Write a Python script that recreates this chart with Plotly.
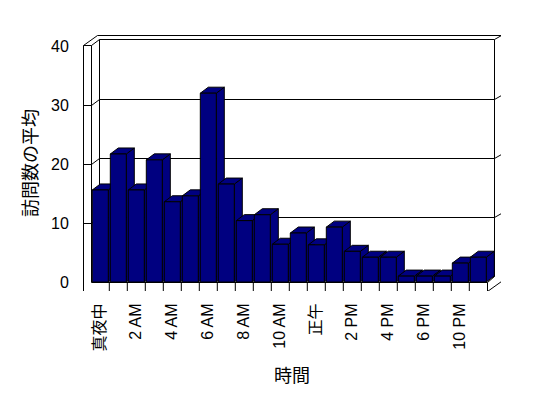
import plotly.graph_objects as go

# ---- data ----
categories = ["真夜中", "1 AM", "2 AM", "3 AM", "4 AM", "5 AM", "6 AM", "7 AM", "8 AM", "9 AM",
              "10 AM", "11 AM", "正午", "1 PM", "2 PM", "3 PM", "4 PM", "5 PM", "6 PM", "7 PM",
              "10 PM", "11 PM"]
values = [15.6, 21.7, 15.6, 20.7, 13.6, 14.6, 32.0, 16.6, 10.4, 11.4, 6.4, 8.3,
          6.3, 9.3, 5.2, 4.2, 4.2, 1.0, 1.0, 1.0, 3.2, 4.2]
y_ticks = [0, 10, 20, 30, 40]
y_title = "訪問数の平均"
x_title = "時間"

# ---- geometry (pixel layout of the pseudo-3D frame) ----
W, H = 548, 398
PL, PR, PT, PB = 83, 501, 35, 291      # plot area in px
X0PX, PXX = 100.3, 18.0                # px of category 0 centre, px per category
Y0PX, PXY = 282.0, 5.9                 # px of value 0 (front), px per unit
DEPTH_DX, DEPTH_DY = 8, 6              # bar depth in px


def X(px):
    return (px - X0PX) / PXX


def Y(py):
    return (Y0PX - py) / PXY


xr = [X(PL), X(PR)]
yr = [Y(PB), Y(PT)]
dx = DEPTH_DX / PXX
dy = DEPTH_DY / PXY
bw = 16 / 18.0

shapes = []


def line_px(p, q):
    shapes.append(dict(type="line", xref="x", yref="y", layer="below",
                       x0=X(p[0] + 0.5), y0=Y(p[1] + 0.5), x1=X(q[0] + 0.5), y1=Y(q[1] + 0.5),
                       line=dict(color="black", width=1)))


frame = [
    ((83, 45), (83, 291)), ((83, 45), (91, 45)), ((91, 45), (91, 282)),
    ((83, 45), (97, 35)), ((97, 35), (501, 35)), ((91, 45), (99, 39)),
    ((99, 39), (494, 39)), ((99, 39), (99, 276)), ((494, 39), (494, 276)),
    ((501, 35), (501, 281)), ((494, 39), (501, 35)),
    ((83, 291), (487, 291)), ((91, 282), (487, 282)), ((487, 282), (487, 291)),
    ((487, 291), (501, 281)), ((487, 282), (494, 276)), ((99, 276), (494, 276)),
]
for p, q in frame:
    line_px(p, q)

for v in y_ticks[1:-1]:
    fy = Y0PX - PXY * v
    line_px((83, fy), (91, fy))
    line_px((91, fy), (99, fy - 6))
    line_px((99, fy - 6), (494, fy - 6))
    line_px((494, fy - 6), (501, fy - 10))

# floor category dividers
for k in range(1, len(categories)):
    shapes.append(dict(type="line", xref="x", yref="y", layer="below",
                       x0=k - 0.5, x1=k - 0.5, y0=Y(282), y1=Y(291.5),
                       line=dict(color="black", width=1)))

# bar sides and tops (pseudo 3D), drawn below the bar fronts
for k, v in enumerate(values):
    l, r = k - bw / 2, k + bw / 2
    side = f"M{r},0 L{r},{v} L{r + dx},{v + dy} L{r + dx},{dy} Z"
    top = f"M{l},{v} L{r},{v} L{r + dx},{v + dy} L{l + dx},{v + dy} Z"
    for path in (side, top):
        shapes.append(dict(type="path", xref="x", yref="y", layer="below", path=path,
                           fillcolor="#000080", line=dict(color="black", width=1)))

fig = go.Figure()
fig.add_trace(go.Bar(
    x=list(range(len(categories))), y=values, width=bw,
    marker=dict(color="#000080", line=dict(color="black", width=1)),
    hoverinfo="skip", showlegend=False,
))

font = "Liberation Sans, Arial, Noto Sans CJK JP, sans-serif"
fig.update_layout(
    width=W, height=H,
    margin=dict(l=PL, r=W - PR, t=PT, b=H - PB, autoexpand=False),
    paper_bgcolor="white", plot_bgcolor="white",
    font=dict(family=font, color="black", size=14),
    shapes=shapes,
    showlegend=False,
    xaxis=dict(range=xr, showgrid=False, zeroline=False, showline=False,
               tickmode="array", tickvals=list(range(0, len(categories), 2)),
               ticktext=[categories[i] for i in range(0, len(categories), 2)],
               tickangle=-90, ticks="outside", ticklen=5, tickcolor="rgba(0,0,0,0)",
               tickfont=dict(size=16), automargin=False,
               title=dict(text=x_title, font=dict(size=18), standoff=18)),
    yaxis=dict(range=yr, showgrid=False, zeroline=False, showline=False,
               tickmode="array", tickvals=y_ticks, ticks="outside", ticklen=10,
               tickcolor="rgba(0,0,0,0)", tickfont=dict(size=16), automargin=False,
               title=dict(text=y_title, font=dict(size=18), standoff=8)),
)

fig.write_html("out.html")
